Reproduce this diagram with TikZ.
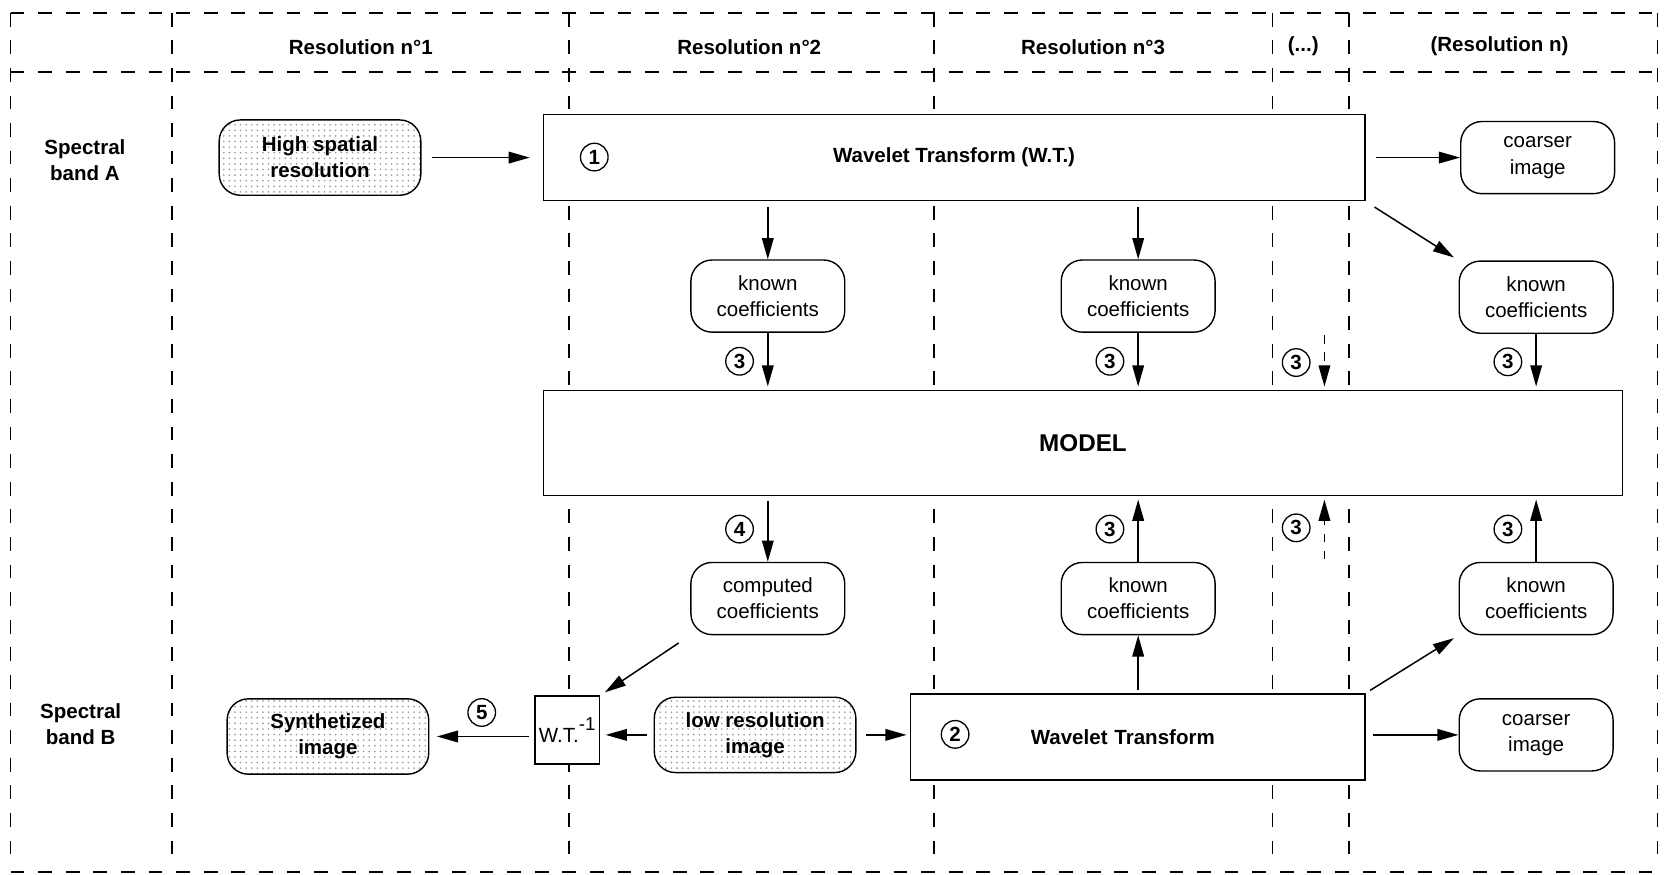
\documentclass[tikz,border=0pt]{standalone}
\usepackage{fontspec}
\setmainfont{Liberation Sans}
\usetikzlibrary{arrows.meta,positioning,patterns}

\begin{document}
\begin{tikzpicture}[
      x=0.2mm,y=-0.2mm,
      font=\fontsize{11}{14}\selectfont,
      lane/.style={line width=0.9pt,dash pattern=on 2.6mm off 2.6mm},
      box/.style={draw,fill=white,line width=0.9pt,align=center},
      img/.style={draw,fill=white,line width=0.75pt,rounded corners=4mm,
        minimum width=29mm,minimum height=13.6mm,align=center},
      shaded/.style={img,preaction={fill=white},pattern=dots,pattern color=gray!80,
        minimum width=38mm,minimum height=14.2mm,font=\bfseries\fontsize{11}{14}\selectfont},
      title/.style={align=center,font=\bfseries\fontsize{11}{14}\selectfont},
      num/.style={circle,draw,solid,fill=white,line width=0.7pt,inner sep=0pt,minimum size=5.2mm,
        font=\bfseries\fontsize{11}{12}\selectfont},
      link/.style={->,line width=0.8pt},
      >={Triangle[length=4mm,width=2.2mm]}
    ]
      \useasboundingbox (0,0) rectangle (1568,824);

      % grid of resolutions and bands
      \draw[lane] (10,12) -- (1562,12);
      \draw[lane] (10,68) -- (1562,68);
      \draw[lane] (10,822) -- (1562,822);
      \foreach \x in {10,162,536,880,1199,1271,1562}
        \draw[lane] (\x,12) -- (\x,808);

      \node[title] (res1) at (340,44) {Resolution n°1};
      \node[title] (res2) at (706,44) {Resolution n°2};
      \node[title] (res3) at (1030,44) {Resolution n°3};
      \node[title] (resdots) at (1228,44) {(...)};
      \node[title] (resn) at (1413,44) {(Resolution n)};
      \node[title] (bandA) at (80,151) {Spectral\\ band A};
      \node[title] (bandB) at (76,682) {Spectral\\ band B};

      % spectral band A
      \node[box,minimum width=154.8mm,minimum height=16.2mm,title] (wta) at (899,148.5) {Wavelet Transform (W.T.)};
      \node[num] (n1) at (560,148) {1};
      \node[shaded,left=22.8mm of wta] (hsr) {High spatial\\ resolution};
      \node[img,right=17.8mm of wta] (coarseA) {coarser\\ image};
      \node[img] (kA1) at (723.5,279) {known\\ coefficients};
      \node[img] (kA2) at (1072.5,279) {known\\ coefficients};
      \node[img] (kA3) at (1447.5,280) {known\\ coefficients};

      % model
      \node[box,minimum width=203.4mm,minimum height=19.8mm,font=\bfseries\fontsize{13}{16}\selectfont] (model) at (1020.5,417.5) {MODEL};

      % spectral band B
      \node[img] (comp) at (723.5,564) {computed\\ coefficients};
      \node[img] (kB1) at (1072.5,564) {known\\ coefficients};
      \node[img] (kB2) at (1447.5,564) {known\\ coefficients};
      \node[box,minimum width=85.6mm,minimum height=16.2mm,title,text width=80mm] (wtb) at (1072,694.5) {\hspace*{-5.6mm}Wavelet Transform};
      \node[num] (n2) at (900,692) {2};
      \node[box,minimum width=12.2mm,minimum height=12.8mm,inner sep=0pt] (wtinv) at (534.5,688) {W.T.\raisebox{1.1ex}{\fontsize{10}{10}\selectfont-1}};
      \node[shaded] (lowres) at (711.5,692.5) {low resolution\\ image};
      \node[shaded] (synth) at (309,694) {Synthetized\\ image};
      \node[img] (coarseB) at (1447.5,692.5) {coarser\\ image};
      \coordinate (dotsA) at (1248,316);
      \coordinate (dotsB) at (1248,527);

      \draw[link,shorten <=2mm,shorten >=2.4mm] (hsr) -- (wta);
      \draw[link,shorten <=2mm] (wta.east |- coarseA) -- (coarseA);
      \draw[link,shorten <=2mm,shorten >=1mm] (wta.south east) -- (kA3.north west);
      \draw[link,shorten <=1mm] (wta.south -| kA1) -- (kA1);
      \draw[link,shorten <=1mm] (wta.south -| kA2) -- (kA2);
      \draw[link,shorten >=0.6mm] (kA1) -- node[num,left=2.6mm] (c3a) {3} (kA1 |- model.north);
      \draw[link,shorten >=0.6mm] (kA2) -- node[num,left=2.6mm] (c3b) {3} (kA2 |- model.north);
      \draw[link,dash pattern=on 1.6mm off 1.6mm,shorten >=0.6mm] (dotsA) -- node[num,left=2.6mm] (c3c) {3} (dotsA |- model.north);
      \draw[link,shorten >=0.6mm] (kA3) -- node[num,left=2.6mm] (c3d) {3} (kA3 |- model.north);

      \draw[link,shorten <=0.8mm] (model.south -| comp) -- node[num,left=2.6mm] (c4) {4} (comp);
      \draw[link,shorten >=0.6mm] (kB1) -- node[num,left=2.6mm] (c3e) {3} (kB1 |- model.south);
      \draw[link,dash pattern=on 1.6mm off 1.6mm,shorten >=0.6mm] (dotsB) -- node[num,left=2.6mm] (c3f) {3} (dotsB |- model.south);
      \draw[link,shorten >=0.6mm] (kB2) -- node[num,left=2.6mm] (c3g) {3} (kB2 |- model.south);
      \draw[link,shorten <=0.6mm] (wtb.north -| kB1) -- (kB1);
      \draw[link,shorten <=1mm,shorten >=1mm] (wtb.north east) -- (kB2.south west);
      \draw[link,shorten <=1.4mm] (wtb.east |- coarseB) -- (coarseB);
      \draw[link,shorten <=2.6mm,shorten >=1mm] (comp.south west) -- (wtinv.north east);
      \draw[link,shorten <=1.2mm,shorten >=1mm] (lowres.west) -- (lowres.west -| wtinv.east);
      \draw[link,shorten <=1.8mm,shorten >=0.6mm] (lowres.east) -- (lowres.east -| wtb.west);
      \draw[link,shorten <=1mm,shorten >=1.4mm] (wtinv.west |- synth) -- node[num,above=1.8mm] (c5) {5} (synth);
    \end{tikzpicture}
\end{document}
